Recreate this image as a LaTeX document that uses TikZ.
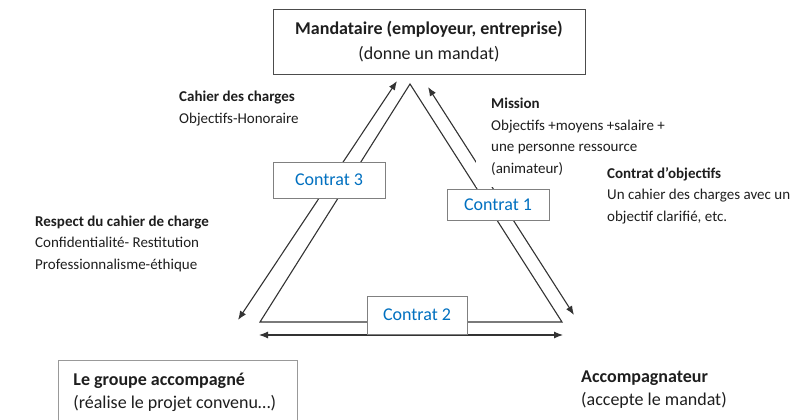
\documentclass[tikz,border=0pt]{standalone}
\usepackage{fontspec}
\setmainfont{Carlito}
\usepackage{tikz}
\usetikzlibrary{arrows.meta,positioning}
\definecolor{contratblue}{RGB}{0,112,192}
\definecolor{inkgray}{RGB}{30,30,30}
\newcommand{\smalltxt}{\fontsize{15}{21.5}\selectfont}
\newcommand{\bigtxt}{\fontsize{18}{22.5}\selectfont}
\tikzstyle{partie}=[draw=black!70,line width=0.8pt,font=\bigtxt,text=inkgray]
\tikzstyle{note}=[inner sep=0pt,font=\smalltxt,text=inkgray,align=flush left,anchor=base west]
\tikzstyle{contrat}=[draw=black!50,line width=0.8pt,fill=white,text=contratblue,font=\bigtxt]
\tikzstyle{lien}=[draw=black!80,line width=1.1pt]
\tikzstyle{echange}=[lien,{Latex[length=9pt,width=7pt]}-{Latex[length=9pt,width=7pt]}]

\begin{document}
\begin{tikzpicture}[x=1pt,y=-1pt]
\useasboundingbox (0,0) rectangle (795,420);
% triangle and exchanges
\coordinate (sommet) at (410,84);
\coordinate (baseG) at (260,322);
\coordinate (baseD) at (562,322);
\coordinate (flecheG-haut) at (397,81);
\coordinate (flecheG-bas) at (238,320);
\coordinate (flecheD-haut) at (428,87);
\coordinate (flecheD-bas) at (574,315);
\coordinate (flecheB-g) at (259,335);
\coordinate (flecheB-d) at (563,335);
\draw[lien,line join=miter] (baseG) -- (sommet) -- (baseD) -- cycle;
\draw[echange] (flecheG-bas) -- (flecheG-haut);
\draw[echange] (flecheD-bas) -- (flecheD-haut);
\draw[echange] (flecheB-g) -- (flecheB-d);

% the three parties
\node[partie,align=center,minimum width=312pt,minimum height=65pt] (mandataire) at (429,41.5)
    {\textbf{Mandataire (employeur, entreprise)}\\[3pt](donne un mandat)};
\node[partie,draw=black!40,align=flush left,anchor=north west,text width=209pt,inner xsep=15pt,inner ysep=13pt]
    (groupe) at (58,360) {\textbf{Le groupe accompagné}\\(réalise le projet convenu…)};
\node[note,font=\bigtxt] (accompagnateur) at (581,405)
    {\textbf{Accompagnateur}\\(accepte le mandat)};

% what each contract carries
\begin{scope}
    \node[note] (cahier) at (179,123) {\textbf{Cahier des charges}\\Objectifs-Honoraire};
    \node[note,fill=white,inner xsep=15pt,inner ysep=12pt] (mission) at (476,173)
        {\textbf{Mission}\\Objectifs +moyens +salaire +\\une personne ressource\\(animateur)};
    \node[note] (objectifs) at (607,221)
        {\textbf{Contrat d’objectifs}\\Un cahier des charges avec un\\objectif clarifié, etc.};
    \node[note] (respect) at (35,269)
        {\textbf{Respect du cahier de charge}\\Confidentialité- Restitution\\Professionnalisme-éthique};
\end{scope}

% contract labels
\node[contrat,minimum width=112pt,minimum height=36pt] (contrat3) at (329,180) {Contrat 3};
\node[contrat,minimum width=102pt,minimum height=31pt] (contrat1) at (498,204.5) {Contrat 1};
\node[contrat,minimum width=100pt,minimum height=38pt] (contrat2) at (417,315) {Contrat 2};
\end{tikzpicture}
\end{document}
